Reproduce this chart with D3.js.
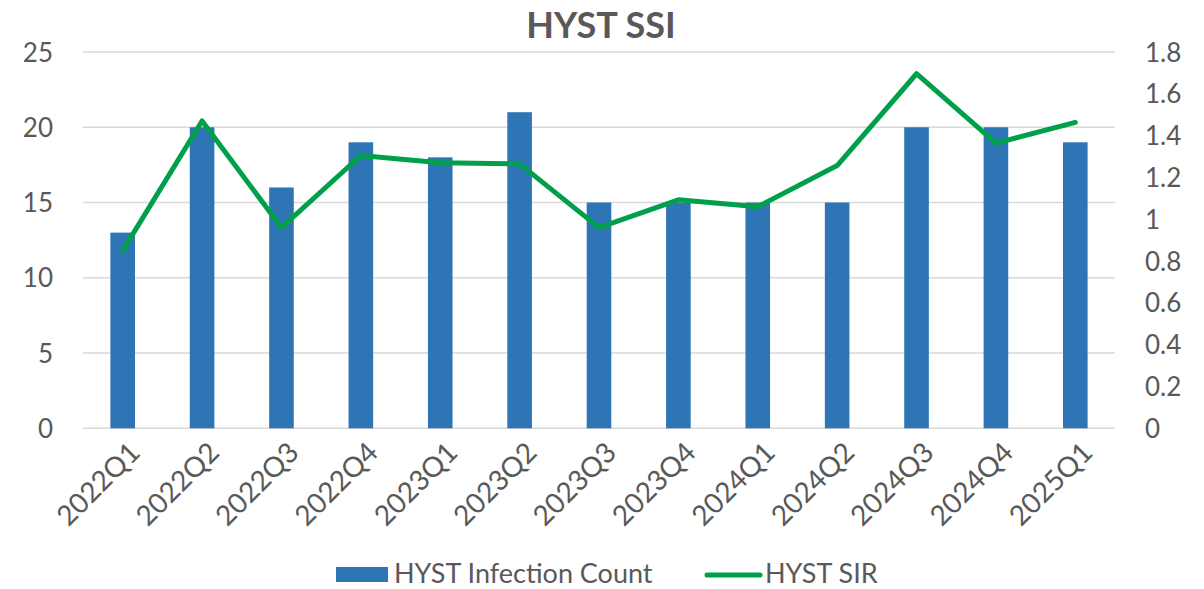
<!DOCTYPE html>
<html><head><meta charset="utf-8">
<script src="https://cdn.jsdelivr.net/npm/d3@7"></script>
<style>body{margin:0;background:#fff}svg{display:block}text{font-family:Lato,"Open Sans",sans-serif;fill:#595959}</style>
</head><body><svg id="c" width="1204" height="589"></svg>
<script>
const categories = ["2022Q1","2022Q2","2022Q3","2022Q4","2023Q1","2023Q2","2023Q3","2023Q4","2024Q1","2024Q2","2024Q3","2024Q4","2025Q1"];
const infectionCount = [13,20,16,19,18,21,15,15,15,15,20,20,19];
const sir = [0.85,1.47,0.96,1.305,1.27,1.265,0.96,1.093,1.06,1.257,1.696,1.364,1.463];
const leftTicks = [0,5,10,15,20,25];
const rightTicks = [0,0.2,0.4,0.6,0.8,1,1.2,1.4,1.6,1.8];

const svg = d3.select("#c");
const L = 83, R = 1115, T = 52, B = 428.3;
const x = d3.scaleBand().domain(categories).range([L, R]).paddingInner(0.69).paddingOuter(0.345);
const yL = d3.scaleLinear().domain([0,25]).range([B, T]);
const yR = d3.scaleLinear().domain([0,1.8]).range([B, T]);

// gridlines
svg.append("g").selectAll("line").data(leftTicks).join("line")
  .attr("x1", L).attr("x2", R).attr("y1", d=>yL(d)).attr("y2", d=>yL(d))
  .attr("stroke", "#d9d9d9").attr("stroke-width", 1.5);

// left axis
const gl = svg.append("g").attr("transform", `translate(${L},0)`)
  .call(d3.axisLeft(yL).tickValues(leftTicks).tickSize(0).tickPadding(30).tickFormat(d3.format("d")));
gl.select(".domain").remove();
gl.selectAll("text").style("font-size","26px").attr("dy","0.35em");

// right axis
const gr = svg.append("g").attr("transform", `translate(${R},0)`)
  .call(d3.axisRight(yR).tickValues(rightTicks).tickSize(0).tickPadding(30).tickFormat(d=>String(+d.toFixed(1))));
gr.select(".domain").remove();
gr.selectAll("text").style("font-size","26px").attr("dy","0.35em");

// bars
svg.append("g").selectAll("rect").data(categories).join("rect")
  .attr("x", d=>x(d)).attr("width", x.bandwidth())
  .attr("y", (d,i)=>yL(infectionCount[i])).attr("height", (d,i)=>B - yL(infectionCount[i]))
  .attr("fill", "#2E75B6");

// line
const line = d3.line().x((d,i)=>x(categories[i]) + x.bandwidth()/2).y(d=>yR(d));
svg.append("path").datum(sir).attr("d", line).attr("fill","none")
  .attr("stroke","#00A04B").attr("stroke-width",5).attr("stroke-linejoin","round").attr("stroke-linecap","round");

// x axis labels
const gx = svg.append("g").attr("transform", `translate(0,${B})`)
  .call(d3.axisBottom(x).tickSize(0).tickPadding(0));
gx.select(".domain").remove();
gx.selectAll("text").style("font-size","28px")
  .attr("text-anchor","end").attr("dy","0").attr("y",0)
  .attr("transform","translate(19,26) rotate(-45)");

// title
svg.append("text").attr("x", 601).attr("y", 38).attr("text-anchor","middle")
  .style("font-size","36px").style("font-weight","bold").text("HYST SSI");

// legend
const lg = svg.append("g");
lg.append("rect").attr("x",336).attr("y",567).attr("width",52).attr("height",15).attr("fill","#2E75B6");
lg.append("text").attr("x",394).attr("y",583).style("font-size","27px").text("HYST Infection Count");
lg.append("line").attr("x1",707).attr("x2",760).attr("y1",575).attr("y2",575)
  .attr("stroke","#00A04B").attr("stroke-width",5).attr("stroke-linecap","round");
lg.append("text").attr("x",765).attr("y",583).style("font-size","27px").text("HYST SIR");
</script></body></html>
